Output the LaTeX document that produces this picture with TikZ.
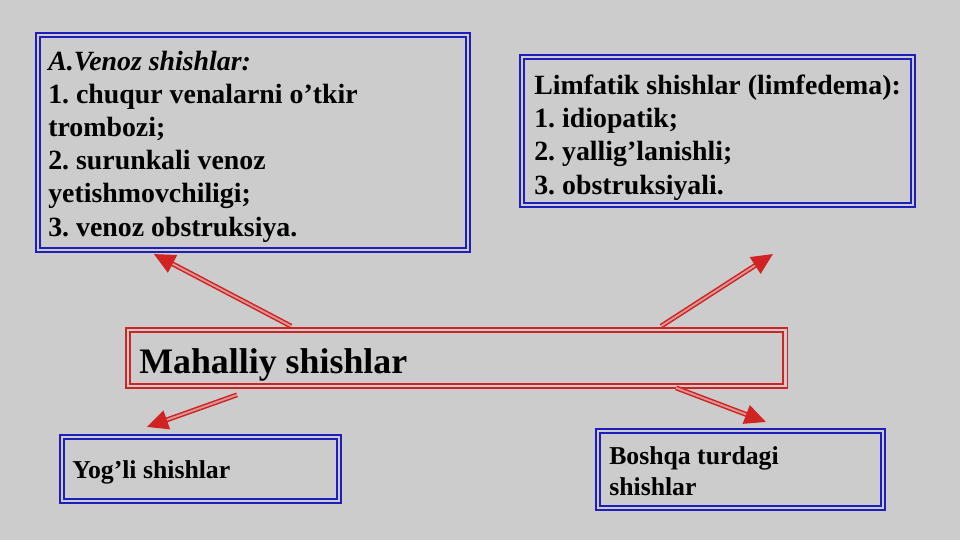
\documentclass[tikz,border=0pt]{standalone}
\usepackage{fontspec}
\setmainfont{Liberation Serif}
\usetikzlibrary{calc,arrows.meta}
\definecolor{slidebg}{RGB}{204,204,204}
\definecolor{boxblue}{RGB}{30,30,190}
\definecolor{boxred}{RGB}{210,35,35}
\frenchspacing
\tikzset{
	bluebox/.style={draw=boxblue, line width=1.5pt, double=slidebg, double distance=1.5pt, inner sep=0pt},
	redbox/.style={draw=boxred, line width=1.2pt, double=slidebg, double distance=2pt, inner sep=0pt},
	boxtext/.style={anchor=base west, inner sep=0pt, align=left},
	bigtext/.style={boxtext, font=\bfseries\fontsize{19.8}{23.6}\selectfont},
	smalltext/.style={boxtext, font=\bfseries\fontsize{18.3}{21.8}\selectfont},
	link/.style={draw=boxred, line width=1.1pt, double=red!25!slidebg, double distance=1.3pt, -{Triangle[length=15pt,width=14pt,fill=boxred]}}
}
\begin{document}
\begin{tikzpicture}[x=0.025cm,y=-0.025cm]
				\fill[slidebg] (0,0) rectangle (960,540);
				\useasboundingbox (0,0) rectangle (960,540);
				
				% boxes
				\node[bluebox, minimum width=10.75cm, minimum height=5.375cm] (venoz) at (253,142.5) {};
				\node[bluebox, minimum width=9.775cm, minimum height=3.7cm] (limfa) at (717.5,131) {};
				\node[redbox, minimum width=16.425cm, minimum height=1.4cm] (mahalliy) at (456.5,358) {};
				\node[bluebox, minimum width=6.925cm, minimum height=1.6cm] (yogli) at (200.5,469) {};
				\node[bluebox, minimum width=7.125cm, minimum height=1.925cm] (boshqa) at (740.5,469.5) {};
				
				% texts
				\node[bigtext] (venoztext) at (48,236) {\textit{A.Venoz shishlar:}\\1. chuqur venalarni o’tkir\\trombozi;\\2. surunkali venoz\\yetishmovchiligi;\\3. venoz obstruksiya.};
				\node[bigtext] (limfatext) at (534,194) {Limfatik shishlar (limfedema):\\1. idiopatik;\\2. yallig’lanishli;\\3. obstruksiyali.};
				\node[boxtext, font=\bfseries\fontsize{25.5}{30}\selectfont] (mahalliytext) at (139,373.5) {Mahalliy shishlar};
				\node[smalltext] (yoglitext) at (72,478) {Yog’li shishlar};
				\node[smalltext] (boshqatext) at (609,495) {Boshqa turdagi\\shishlar};
				
				% arrows
				\draw[link] ($(mahalliy.north west)+(164,-3)$) -- ($(venoz.south west)+(117,3)$);
				\draw[link] ($(mahalliy.north west)+(534,-3)$) -- ($(limfa.south west)+(252,48)$);
				\draw[link] ($(mahalliy.south west)+(110,8)$) -- ($(yogli.north west)+(86,-9)$);
				\draw[link] ($(mahalliy.south west)+(549,1)$) -- ($(boshqa.north west)+(169,-8)$);
\end{tikzpicture}
\end{document}
